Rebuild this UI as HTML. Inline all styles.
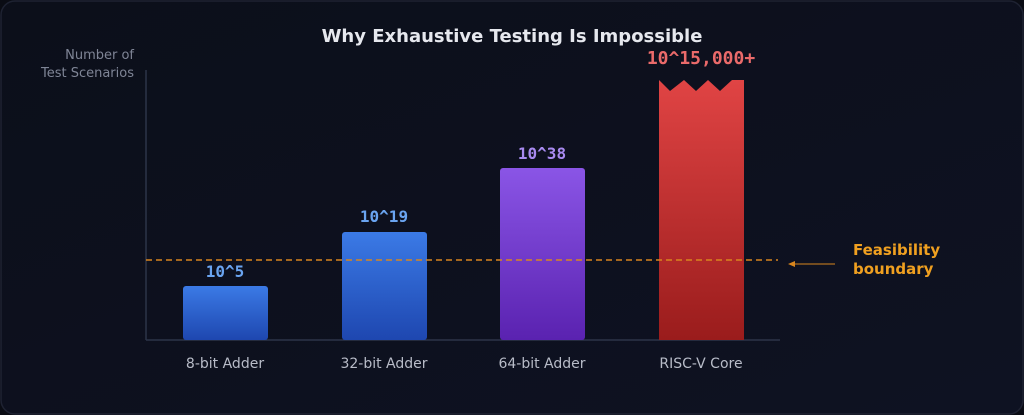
<!DOCTYPE html>
<html><head><meta charset="utf-8"><style>
html,body{margin:0;padding:0;background:#0b0e18;}
</style></head><body>
<svg width="1024" height="415" xmlns="http://www.w3.org/2000/svg" style="display:block">
<defs>
<linearGradient id="bl" x1="0" y1="0" x2="0" y2="1"><stop offset="0" stop-color="#3b7ae6"/><stop offset="1" stop-color="#1e47b0"/></linearGradient>
<linearGradient id="pu" x1="0" y1="0" x2="0" y2="1"><stop offset="0" stop-color="#8a55e6"/><stop offset="1" stop-color="#5a22b0"/></linearGradient>
<linearGradient id="rd" x1="0" y1="0" x2="0" y2="1"><stop offset="0" stop-color="#e04444"/><stop offset="1" stop-color="#9a1c1c"/></linearGradient>
<linearGradient id="bg" x1="0" y1="0" x2="1" y2="1"><stop offset="0" stop-color="#0c0f1a"/><stop offset="1" stop-color="#0e1222"/></linearGradient>
</defs>
<rect x="0" y="0" width="1024" height="415" fill="#0a0c14"/>
<rect x="1" y="1" width="1022" height="413" rx="14" fill="url(#bg)" stroke="#1e2232" stroke-width="1.5"/>
<text x="512" y="42" text-anchor="middle" font-family="DejaVu Sans, sans-serif" font-weight="bold" font-size="18" fill="#e6e8ee">Why Exhaustive Testing Is Impossible</text>
<text x="134" y="59" text-anchor="end" font-family="DejaVu Sans, sans-serif" font-size="13" fill="#7f8596">Number of</text>
<text x="134" y="77" text-anchor="end" font-family="DejaVu Sans, sans-serif" font-size="13" fill="#7f8596">Test Scenarios</text>
<line x1="146" y1="70" x2="146" y2="340" stroke="#2d3448" stroke-width="1.5"/>
<line x1="146" y1="340" x2="780" y2="340" stroke="#2d3448" stroke-width="1.5"/>
<rect x="183" y="286" width="85" height="54" rx="3" fill="url(#bl)"/>
<rect x="342" y="232" width="85" height="108" rx="3" fill="url(#bl)"/>
<rect x="500" y="168" width="85" height="172" rx="3" fill="url(#pu)"/>
<path d="M659,80 L670,91 L684,80 L696,91 L708,80 L720,91 L732,80 L744,80 L744,340 L659,340 Z" fill="url(#rd)"/>
<line x1="146" y1="260" x2="778" y2="260" stroke="#d9861e" stroke-width="1.5" stroke-dasharray="6,4"/>
<line x1="792" y1="264" x2="835" y2="264" stroke="#d9861e" stroke-width="1"/>
<path d="M788,264 L795,261 L795,267 Z" fill="#d9861e"/>
<text x="853" y="255" font-family="DejaVu Sans, sans-serif" font-weight="bold" font-size="15" fill="#f0a020">Feasibility</text>
<text x="853" y="274" font-family="DejaVu Sans, sans-serif" font-weight="bold" font-size="15" fill="#f0a020">boundary</text>
<g font-family="DejaVu Sans Mono, Liberation Mono, monospace" font-weight="bold" text-anchor="middle">
<text x="225" y="277" font-size="16" fill="#6aa4f0">10^5</text>
<text x="384" y="222" font-size="16" fill="#6aa4f0">10^19</text>
<text x="542" y="159" font-size="16" fill="#a88af0">10^38</text>
<text x="701" y="64" font-size="18" fill="#ea6a6a">10^15,000+</text>
</g>
<g font-family="DejaVu Sans, sans-serif" font-size="14" fill="#b8bcc8" text-anchor="middle">
<text x="225" y="368">8-bit Adder</text>
<text x="384" y="368">32-bit Adder</text>
<text x="542" y="368">64-bit Adder</text>
<text x="701" y="368">RISC-V Core</text>
</g>
</svg>
</body></html>
